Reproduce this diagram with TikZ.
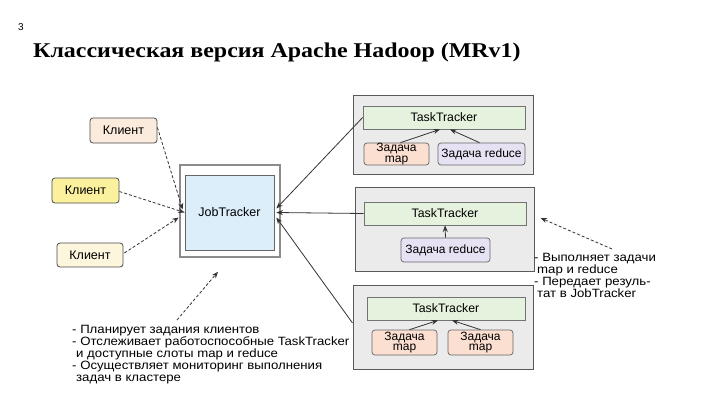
\documentclass[tikz,border=0pt]{standalone}
\usepackage{fontspec}
\setmainfont{Liberation Sans}
\newfontfamily\titlefont{Liberation Serif}[FakeStretch=1.14]
\newfontfamily\notefont{Liberation Sans}[FakeStretch=1.1]
\usetikzlibrary{arrows.meta,calc}
\definecolor{grp}{HTML}{EBEBEB}
\definecolor{ttg}{HTML}{E4F2DE}
\definecolor{mapc}{HTML}{FBDFD1}
\definecolor{redc}{HTML}{E7E2F3}
\definecolor{cla}{HTML}{FBEBDC}
\definecolor{clb}{HTML}{FAF09E}
\definecolor{clc}{HTML}{FCF6DD}
\definecolor{jtc}{HTML}{DDEEFB}
\begin{document}
\begin{tikzpicture}[x=1pt,y=-1pt,
  box/.style={inner sep=0pt, line width=0.8pt},
  client/.style={box, draw=black!70, rounded corners=3pt, font=\fontsize{12.5}{12.5}\selectfont},
  group/.style={box, draw=black!65, fill=grp, line width=1pt},
  tt/.style={box, draw=black!55, fill=ttg, line width=0.7pt, font=\fontsize{12.3}{12.3}\selectfont},
  task/.style={box, draw=black!60, rounded corners=3pt, line width=0.7pt, align=center, font=\fontsize{12}{10.5}\selectfont},
  conn/.style={draw=black!80, line width=0.8pt, -{Stealth[length=6.5pt,width=5pt]}},
  dconn/.style={conn, dash pattern=on 3pt off 2pt},
  note/.style={inner sep=0pt, anchor=north west, align=left}
]
\useasboundingbox[fill=white] (0,0) rectangle (720,405);

\node[inner sep=0pt, anchor=base west, font=\fontsize{10}{10}\selectfont] (num) at (18,30) {3};
\node[inner sep=0pt, anchor=base west, font=\titlefont\bfseries\fontsize{21}{21}\selectfont] (title) at (33,57) {Классическая версия Apache Hadoop (MRv1)};

% clients
\node[client, fill=cla, minimum width=67pt, minimum height=25pt] (c1) at (123.5,130.5) {Клиент};
\node[client, fill=clb, minimum width=67pt, minimum height=25pt] (c2) at (85.5,190.5) {Клиент};
\node[client, fill=clc, minimum width=66pt, minimum height=24pt] (c3) at (90,255) {Клиент};

% JobTracker
\node[box, draw=black!45, fill=white, line width=1.6pt, minimum width=100pt, minimum height=92pt] (jto) at (230,211) {};
\node[box, draw=black!60, fill=jtc, line width=0.7pt, minimum width=89pt, minimum height=75pt, font=\fontsize{12.5}{12.5}\selectfont] (jt) at (229.5,212.5) {JobTracker};

% group 1
\node[group, minimum width=180pt, minimum height=79pt] (g1) at (443,134.5) {};
\node[tt, minimum width=162pt, minimum height=23pt] (tt1) at (444,117.5) {TaskTracker};
\node[task, fill=mapc, minimum width=65pt, minimum height=22pt] (m1) at (396.5,154) {Задача\\map};
\node[task, fill=redc, minimum width=87pt, minimum height=22pt] (r1) at (481.5,154) {Задача reduce};

% group 2
\node[group, minimum width=179pt, minimum height=84pt] (g2) at (444.5,229) {};
\node[tt, minimum width=162pt, minimum height=23pt] (tt2) at (445,213.5) {TaskTracker};
\node[task, fill=redc, minimum width=89pt, minimum height=24pt] (r2) at (445.5,250) {Задача reduce};

% group 3
\node[group, minimum width=180pt, minimum height=84pt] (g3) at (443,327) {};
\node[tt, minimum width=158pt, minimum height=23pt] (tt3) at (446,308.5) {TaskTracker};
\node[task, fill=mapc, minimum width=65pt, minimum height=25pt] (m3a) at (404.5,342.5) {Задача\\map};
\node[task, fill=mapc, minimum width=65pt, minimum height=25pt] (m3b) at (480.5,342.5) {Задача\\map};

% notes
\node[note, font=\notefont\fontsize{12}{12}\selectfont] (n1) at (72,325) {- Планирует задания клиентов\\- Отслеживает работоспособные TaskTracker\\\hspace*{4pt}и доступные слоты map и reduce\\- Осуществляет мониторинг выполнения\\\hspace*{4pt}задач в кластере};
\node[note, font=\notefont\fontsize{12}{10.3}\selectfont] (n2) at (534,253) {- Выполняет задачи\\\hspace*{3pt}map и reduce\\- Передает резуль-\\\hspace*{3pt}тат в JobTracker};
\coordinate (n1tail) at (177,320);
\coordinate (n2tail) at (612,249);

% task -> tasktracker arrows
\draw[conn] ($(m1.north)+(4,0)$) -- ($(tt1.south)+(-4,0)$);
\draw[conn] ($(r1.north)+(-2,0)$) -- ($(tt1.south)+(6,0)$);
\draw[conn] (r2.north) -- (tt2.south);
\draw[conn] ($(m3a.north)+(5,0)$) -- ($(tt3.south)+(-8,0)$);
\draw[conn] ($(m3b.north)+(0,0)$) -- ($(tt3.south)+(6,0)$);

% tasktracker -> jobtracker
\draw[conn] ($(tt1.west)+(0,0)$) -- ($(jt.east)+(2,-4)$);
\draw[conn] (tt2.west) -- ($(jt.east)+(2,0)$);
\draw[conn] ($(g3.west)+(0,-4)$) -- ($(jt.east)+(2,5)$);

% clients -> jobtracker
\draw[dconn] ($(c1.east)+(0,-3)$) -- ($(jt.west)+(-2,-3)$);
\draw[dconn] ($(c2.east)+(0,1)$) -- ($(jt.west)+(0,0)$);
\draw[dconn] ($(c3.east)+(1,-2)$) -- ($(jt.west)+(-6,5)$);

% note arrows
\draw[dconn] (n1tail) -- ($(jto.south)+(-12,14)$);
\draw[dconn] (n2tail) -- ($(g2.east)+(6,-11)$);
\end{tikzpicture}
\end{document}
